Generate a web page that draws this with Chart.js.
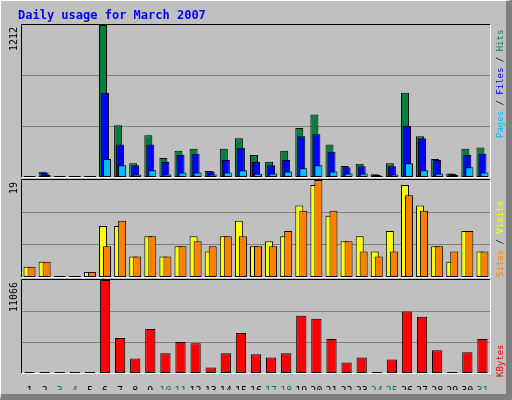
<!DOCTYPE html>
<html><head><meta charset="utf-8">
<script src="https://cdn.jsdelivr.net/npm/chart.js@4"></script>
<style>
html,body{margin:0;padding:0;background:#c0c0c0;}
#wrap{position:relative;width:512px;height:400px;background:#c0c0c0;overflow:hidden;}
#frame{position:absolute;left:0;top:0;width:512px;height:400px;box-sizing:border-box;border-left:1px solid #fff;border-top:1px solid #fff;border-right:6px solid #808080;border-bottom:6px solid #808080;}
canvas{position:absolute;left:0;top:0;}
</style></head><body>
<div id="wrap">
<div id="frame"></div>
<canvas id="c3" width="512" height="400"></canvas>
<canvas id="c2" width="512" height="400"></canvas>
<canvas id="c1" width="512" height="400"></canvas>
</div>
<script>
const days = ['1','2','3','4','5','6','7','8','9','10','11','12','13','14','15','16','17','18','19','20','21','22','23','24','25','26','27','28','29','30','31'];
const weekendDays = ['3','4','10','11','17','18','24','25','31'];
const hits  = [5,41,0,0,5,1212,412,110,333,152,209,226,47,226,308,176,121,209,391,498,259,88,105,22,110,671,325,143,28,226,236];
const files = [3,33,0,0,3,671,259,94,259,119,176,185,44,135,234,119,94,135,325,341,201,77,86,16,86,407,308,135,25,176,185];
const pages = [2,15,0,0,2,143,94,20,53,20,36,36,20,36,53,25,27,44,69,94,44,27,27,5,20,110,53,27,15,77,36];
const visits = [2,3,0,0,1,10,10,4,8,4,6,8,5,8,11,6,7,8,14,18,12,7,8,5,9,18,14,6,3,9,5];
const sites  = [2,3,0,0,1,6,11,4,8,4,6,7,6,8,8,6,6,9,13,19,13,7,5,4,5,16,13,6,5,9,5];
const kbytes = [60,60,0,0,60,11066,4160,1737,5250,2343,3675,3554,646,2343,4766,2221,1858,2343,6826,6462,4039,1252,1858,60,1616,7311,6705,2706,60,2464,4039];
const maxHits = 1212, maxVisits = 19, maxKB = 11066;

const MONO = '"DejaVu Sans Mono", monospace';
const L = 22, R = 490;
const W = 512;

const shift = {
  id:'shift',
  beforeDatasetDraw(chart,args){const dx=(chart.data.datasets[args.index].dx)||0;chart.ctx.save();chart.ctx.translate(dx,0);},
  afterDatasetDraw(chart){chart.ctx.restore();}
};
const bevel = {
  id:'bevel',
  afterDraw(chart){
    const a=chart.chartArea,c=chart.ctx;c.save();c.lineWidth=1;
    c.strokeStyle='#000';c.beginPath();c.moveTo(a.left-0.5,a.bottom);c.lineTo(a.left-0.5,a.top-0.5);c.lineTo(a.right,a.top-0.5);c.stroke();
    c.strokeStyle='#fff';c.beginPath();c.moveTo(a.right+0.5,a.top);c.lineTo(a.right+0.5,a.bottom+0.5);c.lineTo(a.left,a.bottom+0.5);c.stroke();
    const o=chart.options.plugins.labels;
    c.fillStyle='#000';c.font='10px '+MONO;
    c.save();c.translate(17,a.top+2);c.rotate(-Math.PI/2);c.textAlign='right';c.textBaseline='alphabetic';c.fillText(o.max,0,0);c.restore();
    c.save();c.translate(503,o.start);c.rotate(-Math.PI/2);c.textAlign='left';c.textBaseline='alphabetic';c.font='9px '+MONO;
    let x=0;for(const [t,col] of o.parts){c.fillStyle=col;c.fillText(t,x,0);x+=c.measureText(t).width;}
    c.restore();
    if(o.title){c.fillStyle='#0000ff';c.font='bold 12px '+MONO;c.textAlign='left';c.textBaseline='alphabetic';c.fillText(o.title,18,19);}
    c.restore();
  }
};
function yScale(max){return {min:0,max:max,display:true,ticks:{display:false,stepSize:max/3},grid:{color:'#808080',drawTicks:false,lineWidth:(ctx)=>ctx.tick&&ctx.tick.value>0&&ctx.tick.value<max?1:0},border:{display:false},afterFit:s=>{s.width=0;}};}
function ds(label,data,color,dx){return {label,data,backgroundColor:color,borderColor:'#000',borderWidth:1,borderSkipped:false,dx,grouped:false,minBarLength:1};}
function opts(pad,max,labels,showX){
  return {responsive:false,animation:false,devicePixelRatio:1,
    layout:{padding:pad},
    plugins:{legend:{display:false},tooltip:{enabled:false},labels},
    scales:{
      x:{display:showX,offset:true,grid:{display:false},border:{display:false},
         ticks:{color:(ctx)=>weekendDays.includes(days[ctx.index])?'#008040':'#000',font:{family:MONO,size:10},maxRotation:0,autoSkip:false,padding:4},
         afterFit:s=>{s.height=showX?17:0;}},
      y:yScale(max)}};
}
new Chart(document.getElementById('c1'),{type:'bar',plugins:[shift,bevel],
  data:{labels:days,datasets:[ds('Pages',pages,'#00c0ff',2),ds('Files',files,'#0000ff',0),ds('Hits',hits,'#008040',-2)].map(d=>Object.assign(d,{categoryPercentage:1,barPercentage:0.53}))},
  options:opts({left:L,right:W-R,top:25,bottom:400-177},maxHits,{max:String(maxHits),start:138,parts:[['Pages','#00c0ff'],[' / ','#000'],['Files','#0000ff'],[' / ','#000'],['Hits','#008040']],title:'Daily usage for March 2007'},false)});
new Chart(document.getElementById('c2'),{type:'bar',plugins:[shift,bevel],
  data:{labels:days,datasets:[ds('Sites',sites,'#ff8000',2),ds('Visits',visits,'#ffff00',-2)].map(d=>Object.assign(d,{categoryPercentage:1,barPercentage:0.53}))},
  options:opts({left:L,right:W-R,top:180,bottom:400-277},maxVisits,{max:String(maxVisits),start:277,parts:[['Sites','#ff8000'],[' / ','#000'],['Visits','#ffff00']]},false)});
new Chart(document.getElementById('c3'),{type:'bar',plugins:[bevel],
  data:{labels:days,datasets:[Object.assign(ds('KBytes',kbytes,'#ff0000',0),{categoryPercentage:1,barPercentage:0.68})]},
  options:opts({left:L,right:W-R,top:280,bottom:10},maxKB,{max:String(maxKB),start:377,parts:[['KBytes','#ff0000']]},true)});
</script>
</body></html>
